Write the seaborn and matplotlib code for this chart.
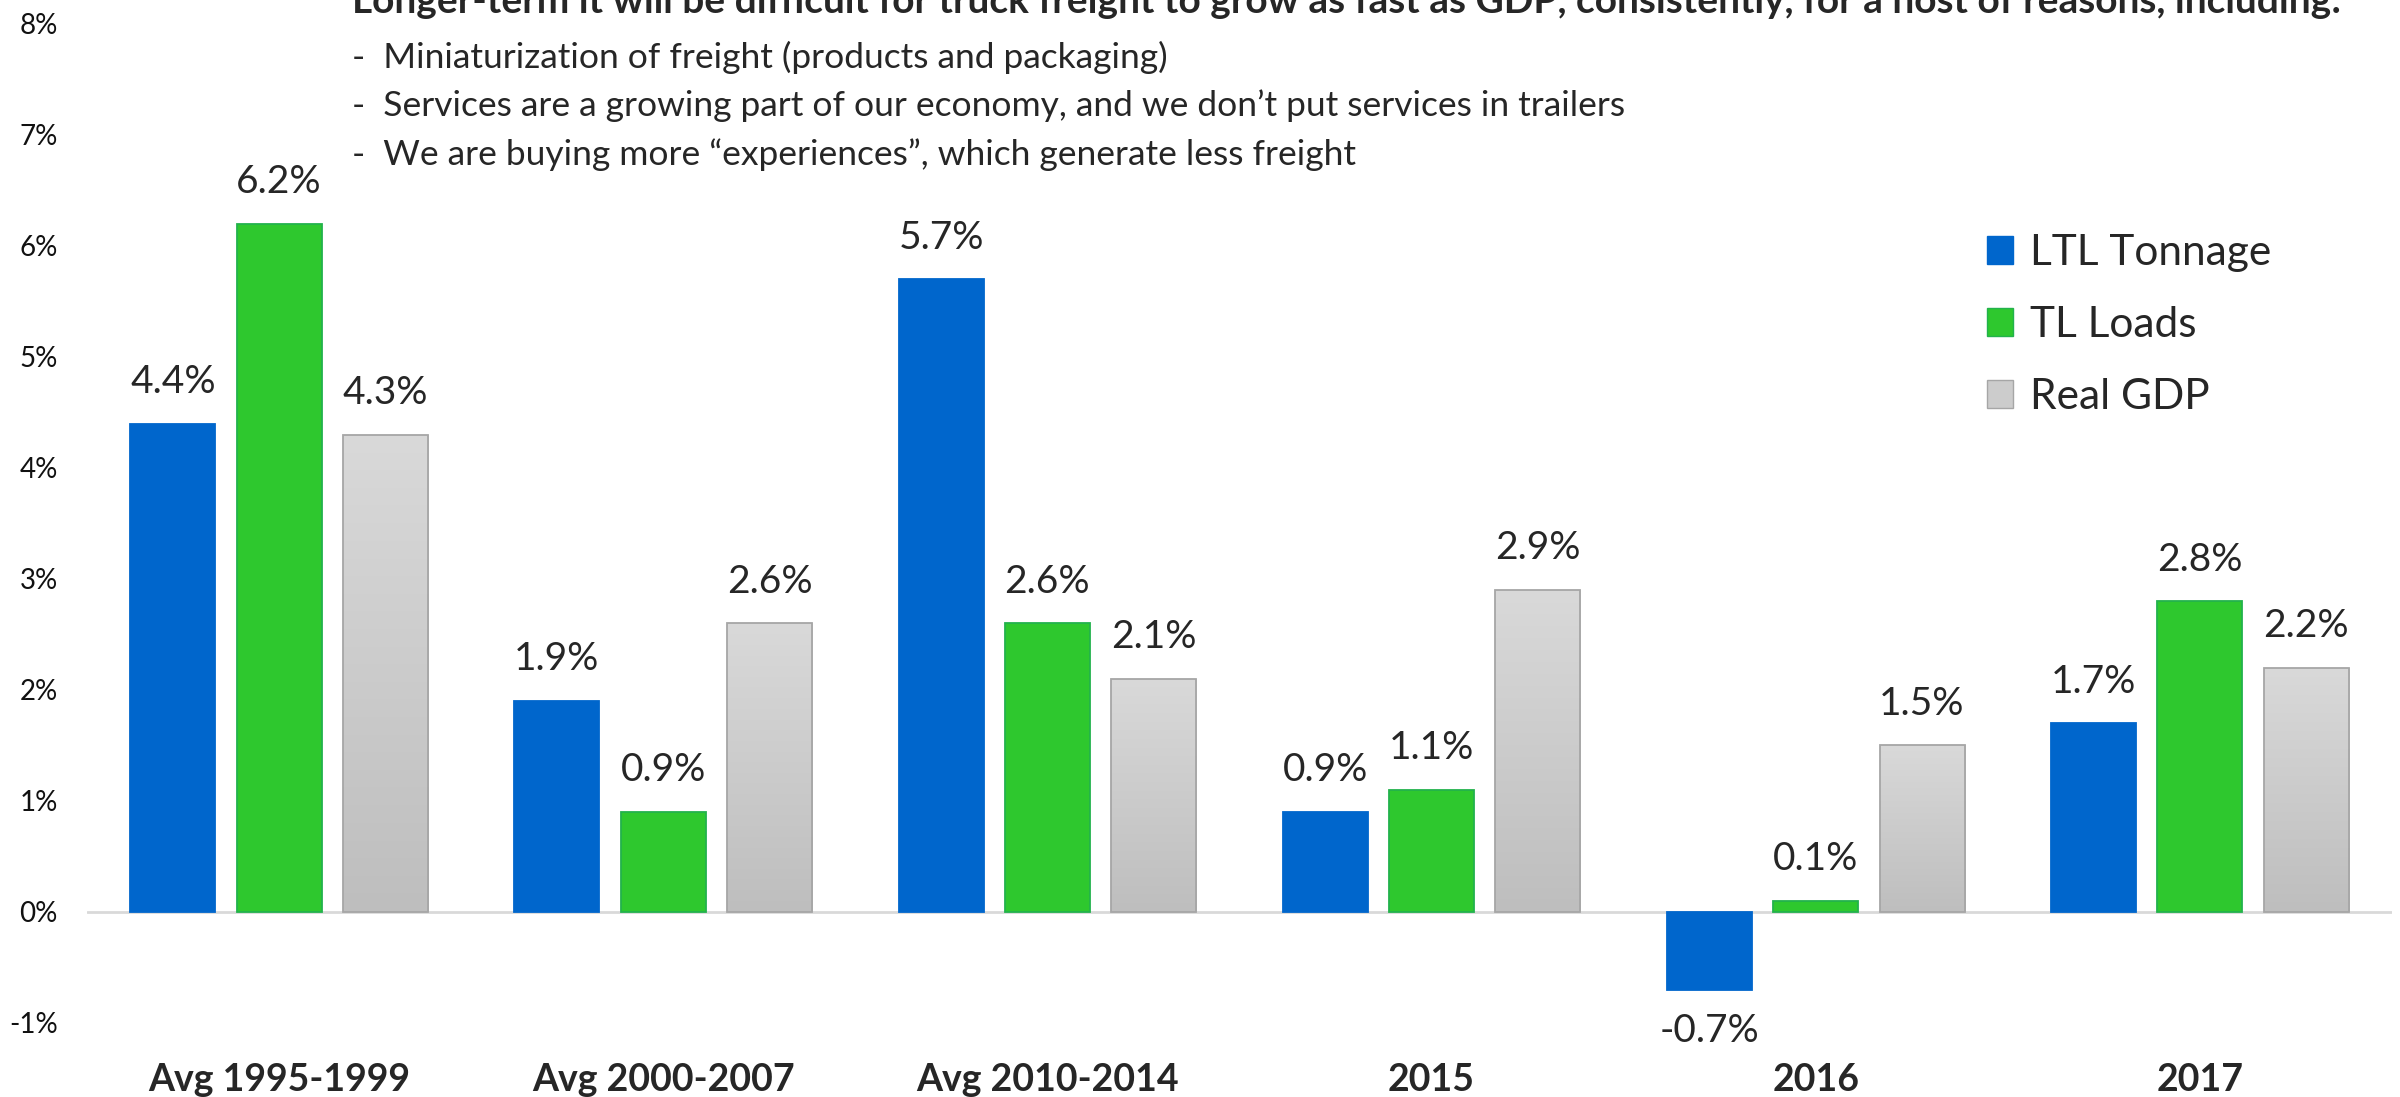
import numpy as np
import pandas as pd
import matplotlib.pyplot as plt
import seaborn as sns
from matplotlib.patches import Patch
from matplotlib.colors import LinearSegmentedColormap

periods = ['Avg 1995-1999', 'Avg 2000-2007', 'Avg 2010-2014', '2015', '2016', '2017']
series = ['LTL Tonnage', 'TL Loads', 'Real GDP']
ltl_tonnage = [4.4, 1.9, 5.7, 0.9, -0.7, 1.7]
tl_loads = [6.2, 0.9, 2.6, 1.1, 0.1, 2.8]
real_gdp = [4.3, 2.6, 2.1, 2.9, 1.5, 2.2]
y_ticks = [-1, 0, 1, 2, 3, 4, 5, 6, 7, 8]

headline = ('Longer-term it will be difficult for truck freight to grow as fast as GDP, '
            'consistently, for a host of reasons, including:')
bullets = ['Miniaturization of freight (products and packaging)',
           'Services are a growing part of our economy, and we don\u2019t put services in trailers',
           'We are buying more \u201cexperiences\u201d, which generate less freight']

df = pd.DataFrame({'Period': periods * 3,
                   'Series': np.repeat(series, len(periods)),
                   'Growth': ltl_tonnage + tl_loads + real_gdp})

sns.set_theme(style='white')
plt.rcParams['font.family'] = ['Lato', 'DejaVu Sans']

palette = {'LTL Tonnage': '#0066CC', 'TL Loads': '#2EC82E', 'Real GDP': '#CCCCCC'}
edges = {'LTL Tonnage': '#0066CC', 'TL Loads': '#22B24C', 'Real GDP': '#A6A6A6'}

fig = plt.figure(figsize=(24, 10.97), dpi=100)
ax = fig.add_axes([87 / 2400, 0, 2305 / 2400, 1])

sns.barplot(data=df, x='Period', y='Growth', hue='Series', order=periods,
            hue_order=series, palette=palette, width=0.83, gap=0.2,
            saturation=1, legend=False, ax=ax)

ax.axhline(0, color='#D9D9D9', lw=2, zorder=0.5)

# edges and value labels
for cont, s in zip(ax.containers, series):
    for bar in cont:
        bar.set_edgecolor(edges[s])
        bar.set_linewidth(1.3)
    vals = df.loc[df['Series'] == s, 'Growth'].tolist()
    ax.bar_label(cont, labels=[f'{v:.1f}%' for v in vals], padding=17, fontsize=28)

# gray gradient on Real GDP bars
grad = LinearSegmentedColormap.from_list('gdp', ['#BEBEBE', '#D9D9D9'])
for bar in ax.containers[2]:
    x0, y0 = bar.get_x(), bar.get_y()
    w, h = bar.get_width(), bar.get_height()
    im = ax.imshow(np.linspace(0, 1, 256).reshape(-1, 1), cmap=grad, origin='lower',
                   extent=[x0, x0 + w, y0, y0 + h], aspect='auto', zorder=bar.get_zorder())
    im.set_clip_path(bar)
    bar.set_facecolor('none')
    bar.set_zorder(bar.get_zorder() + 0.1)

ax.set_xlim(-0.5, 5.5)
ax.set_ylim(-1.667, 8.216)
ax.set_yticks(y_ticks)
ax.set_yticklabels([f'{t}%' for t in y_ticks])
ax.tick_params(axis='y', length=0, pad=21, labelsize=20, labelcolor='#111111')
ax.tick_params(axis='x', length=0, pad=-24.5, labelsize=27)
for lab in ax.get_xticklabels():
    lab.set_fontweight('bold')
ax.set_xlabel('')
ax.set_ylabel('')
sns.despine(ax=ax, left=True, bottom=True)

handles = [Patch(facecolor=palette[s], edgecolor=edges[s]) for s in series]
fig.legend(handles, series, loc='upper left', bbox_to_anchor=(1987 / 2400, 1 - 234 / 1097),
           frameon=False, fontsize=30.5, handlelength=0.62, handleheight=0.62,
           handletextpad=0.4, labelspacing=0.8, borderpad=0, borderaxespad=0)

fig.text(352 / 2400, 1 - 13 / 1097, headline, fontsize=28, fontweight='bold', va='baseline')
for i, b in enumerate(bullets):
    fig.text(352 / 2400, 1 - (57 + 49 * i) / 1097, '-  ' + b, fontsize=25.5, va='center')

fig.savefig('out.png', dpi=100)
